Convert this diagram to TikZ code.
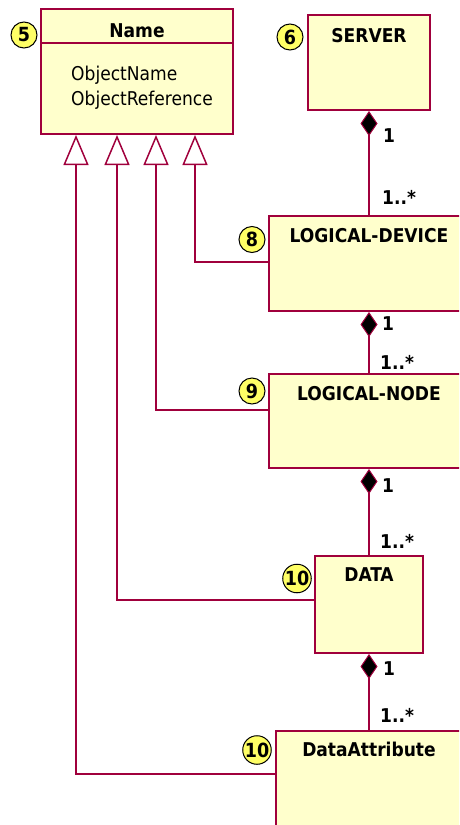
\documentclass[tikz,border=0pt]{standalone}
\usepackage{fontspec}
\setmainfont{DejaVu Sans Condensed}
\usetikzlibrary{arrows.meta}

\definecolor{umlred}{RGB}{160,0,60}
\definecolor{umlfill}{RGB}{255,255,204}
\definecolor{badgefill}{RGB}{255,255,102}

\tikzset{
  umlbox/.style={draw=umlred, fill=umlfill, line width=2pt, inner sep=0pt},
  title/.style={anchor=base, inner sep=0pt, font=\fontsize{19}{22}\selectfont\bfseries},
  attr/.style={anchor=base west, inner sep=0pt, font=\fontsize{19}{22}\selectfont},
  badge/.style={circle, draw=black, fill=badgefill, line width=1pt, minimum size=26pt, inner sep=0pt, font=\fontsize{19.5}{20}\selectfont\bfseries},
  mult/.style={anchor=base west, inner sep=0pt, font=\fontsize{19}{22}\selectfont\bfseries},
  gen/.style={draw=umlred, line width=2pt, -{Triangle[open, width=25pt, length=30pt, line width=1.5pt]}},
  comp/.style={draw=umlred, line width=2pt, {Diamond[fill=black, width=17pt, length=25pt, line width=1pt]}-}
}

\begin{document}
\begin{tikzpicture}[x=1pt, y=-1pt]
    \useasboundingbox (0,0) rectangle (459,825);
    \clip (0,0) rectangle (459,825);

    % Name class
    \node[umlbox, minimum width=192pt, minimum height=125pt] (name) at (137,71.5) {};
    \draw[umlred, line width=2pt] (name.west |- 0,43) -- (name.east |- 0,43);
    \node[title] (nametitle) at (137,37) {Name};
    \node[attr] (objname) at (71,80) {ObjectName};
    \node[attr] (objref) at (71,105) {ObjectReference};

    % hierarchy classes
    \node[umlbox, minimum width=122pt, minimum height=95pt] (server) at (369,62.5) {};
    \node[title] (servertitle) at (369,42) {SERVER};

    \node[umlbox, minimum width=200pt, minimum height=95pt] (ld) at (369,263.5) {};
    \node[title] (ldtitle) at (369,242.5) {LOGICAL-DEVICE};

    \node[umlbox, minimum width=200pt, minimum height=94pt] (ln) at (369,421) {};
    \node[title] (lntitle) at (369,400) {LOGICAL-NODE};

    \node[umlbox, minimum width=108pt, minimum height=97pt] (data) at (369,604.5) {};
    \node[title] (datatitle) at (369,581.5) {DATA};

    \node[umlbox, minimum width=186pt, minimum height=108pt] (da) at (369,785) {};
    \node[title] (datitle) at (369,756.5) {DataAttribute};

    % composition
    \draw[comp] (server.south) -- (ld.north);
    \draw[comp] (ld.south) -- (ln.north);
    \draw[comp] (ln.south) -- (data.north);
    \draw[comp] (data.south) -- (da.north);

    \node[mult] (m1) at (383,142) {1};
    \node[mult] (m1n) at (382,204) {1..*};
    \node[mult] (m2) at (382,330) {1};
    \node[mult] (m2n) at (380,369) {1..*};
    \node[mult] (m3) at (382,492) {1};
    \node[mult] (m3n) at (380,548) {1..*};
    \node[mult] (m4) at (383,675) {1};
    \node[mult] (m4n) at (380,722) {1..*};

    % generalization
    \draw[gen] ([yshift=1.5pt]ld.west) -| (name.south -| 195,0);
    \draw[gen] ([yshift=11pt]ln.west) -| (name.south -| 156,0);
    \draw[gen] ([yshift=4.5pt]data.west) -| (name.south -| 117,0);
    \draw[gen] ([yshift=11pt]da.west) -| (name.south -| 76,0);

    % numbers
    \node[badge] (b5) at (24,35) {5};
    \node[badge] (b6) at (290,37) {6};
    \node[badge] (b8) at (252,239.5) {8};
    \node[badge] (b9) at (252,391) {9};
    \node[badge] (b10a) at (297,578.5) {10};
    \node[badge] (b10b) at (257,750) {10};

\end{tikzpicture}
\end{document}
